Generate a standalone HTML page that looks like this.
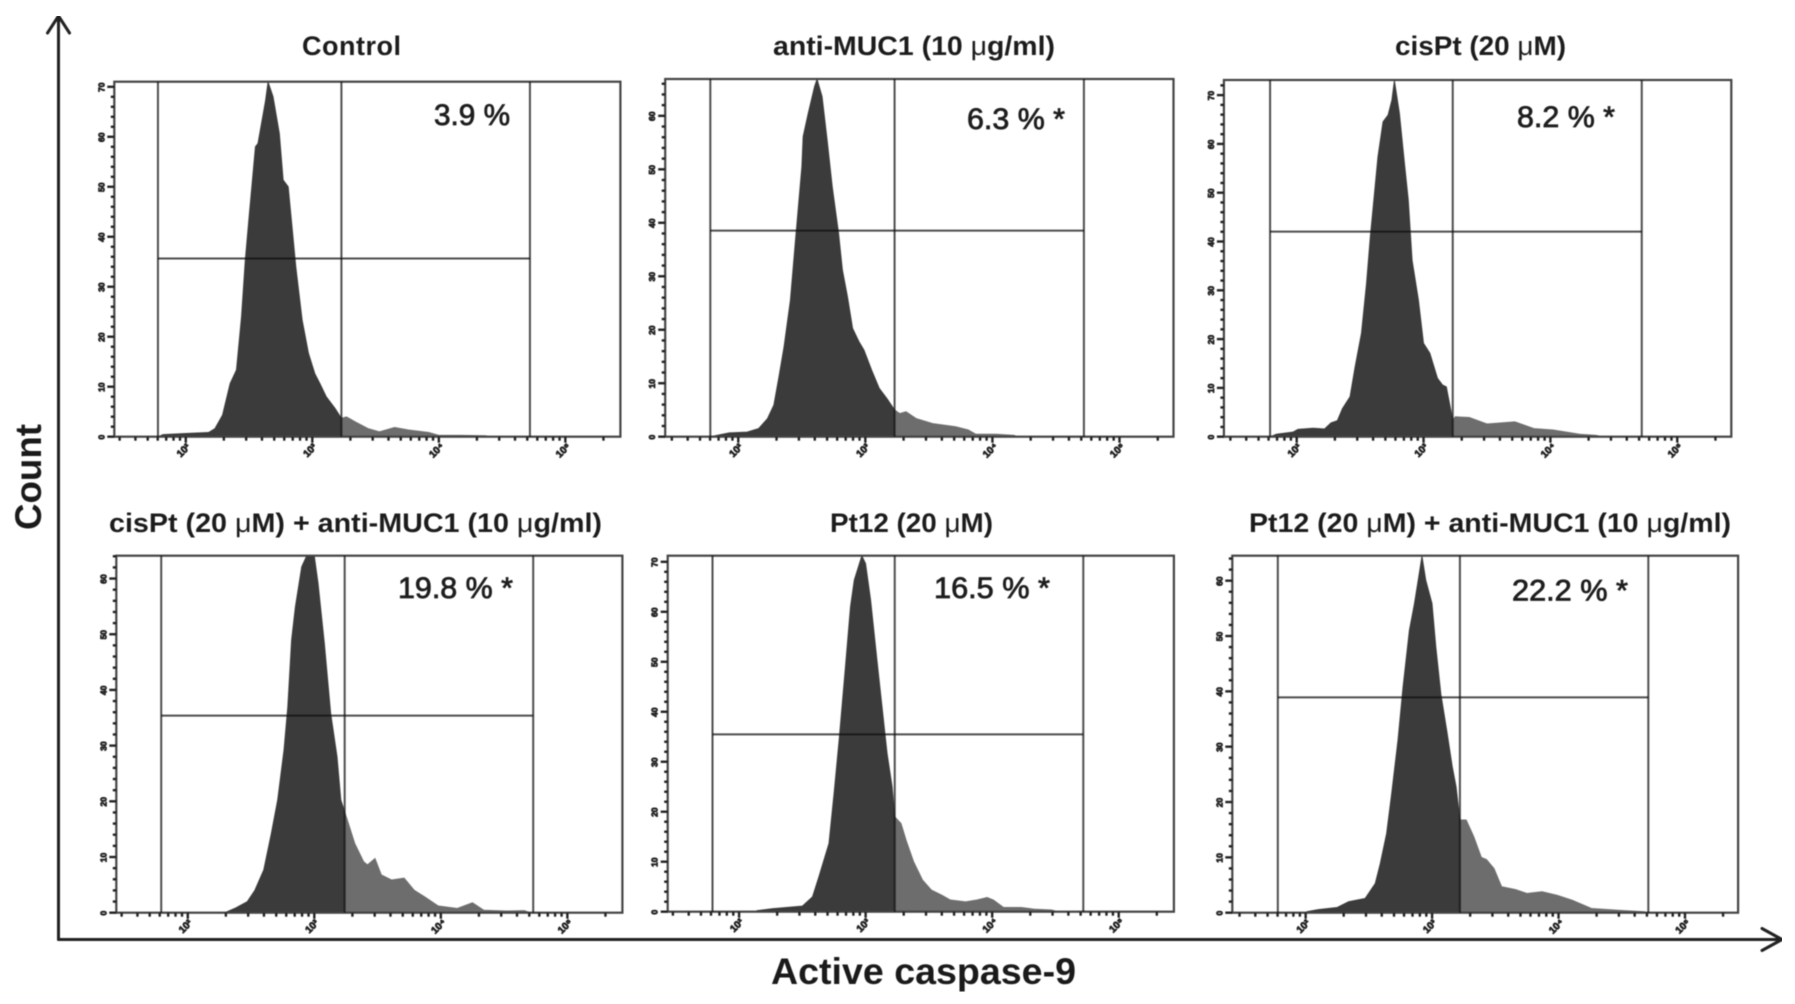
<!DOCTYPE html>
<html lang="en">
<head>
<meta charset="utf-8">
<title>Active caspase-9 flow cytometry histograms</title>
<style>
html,body{margin:0;padding:0;background:#fff;width:1795px;height:1004px;overflow:hidden}
svg{display:block}
text{font-family:"Liberation Sans",sans-serif}
.title{font-size:27px;font-weight:700;fill:#1c1c1c}
.pct{font-size:30px;fill:#1e1e1e;stroke:#1e1e1e;stroke-width:.8px}
.axis-title{font-size:37px;font-weight:700;fill:#1a1a1a}
</style>
</head>
<body>
<svg id="figure" width="1795" height="1004" viewBox="0 0 1795 1004" xmlns="http://www.w3.org/2000/svg">
<defs>
<filter id="soft" x="0" y="0" width="100%" height="100%" color-interpolation-filters="sRGB"><feGaussianBlur stdDeviation="0.6"/></filter>
</defs>
<rect width="1795" height="1004" fill="#fff"/>
<g id="root" filter="url(#soft)">
  <g id="panels"></g>

  <text class="title" x="302" y="55" textLength="99">Control</text>
  <text class="title" x="773" y="55" textLength="282" lengthAdjust="spacingAndGlyphs">anti-MUC1 (10 <tspan font-weight="400">μ</tspan>g/ml)</text>
  <text class="title" x="1395" y="55" textLength="171" lengthAdjust="spacingAndGlyphs">cisPt (20 <tspan font-weight="400">μ</tspan>M)</text>
  <text class="title" x="109" y="532" textLength="493" lengthAdjust="spacingAndGlyphs">cisPt (20 <tspan font-weight="400">μ</tspan>M) + anti-MUC1 (10 <tspan font-weight="400">μ</tspan>g/ml)</text>
  <text class="title" x="830" y="532" textLength="163" lengthAdjust="spacingAndGlyphs">Pt12 (20 <tspan font-weight="400">μ</tspan>M)</text>
  <text class="title" x="1249" y="532" textLength="482" lengthAdjust="spacingAndGlyphs">Pt12 (20 <tspan font-weight="400">μ</tspan>M) + anti-MUC1 (10 <tspan font-weight="400">μ</tspan>g/ml)</text>

  <text class="pct" x="434" y="125" textLength="76" lengthAdjust="spacingAndGlyphs">3.9 %</text>
  <text class="pct" x="967" y="129" textLength="98" lengthAdjust="spacingAndGlyphs">6.3 % *</text>
  <text class="pct" x="1517" y="127" textLength="98" lengthAdjust="spacingAndGlyphs">8.2 % *</text>
  <text class="pct" x="398" y="598" textLength="115" lengthAdjust="spacingAndGlyphs">19.8 % *</text>
  <text class="pct" x="934" y="598" textLength="116" lengthAdjust="spacingAndGlyphs">16.5 % *</text>
  <text class="pct" x="1512" y="600.5" textLength="116" lengthAdjust="spacingAndGlyphs">22.2 % *</text>

  <g fill="none" stroke="#222" stroke-width="3" stroke-linecap="round" stroke-linejoin="round">
    <path d="M58.5 16V939.5"/>
    <path d="M47.5 33L58.5 16L69.5 33"/>
  </g>
  <g fill="none" stroke="#222" stroke-width="3" stroke-linecap="round" stroke-linejoin="round">
    <path d="M58.5 939.5H1781"/>
    <path d="M1762 928.5L1782 939.5L1762 950.5"/>
  </g>
  <text class="axis-title" transform="translate(41 530) rotate(-90)" textLength="106" lengthAdjust="spacingAndGlyphs">Count</text>
  <text class="axis-title" x="771" y="984" textLength="305" lengthAdjust="spacingAndGlyphs">Active caspase-9</text>
</g>
</svg>
<script>
/* Histogram data: log10 intensity and count (% of panel maximum) */
const controlLog = [1.78,1.82,1.98,2.18,2.23,2.29,2.35,2.40,2.44,2.47,2.50,2.55,2.57,2.63,2.65,2.69,2.74,2.77,2.81,2.84,2.87,2.92,2.97,3.02,3.06,3.11,3.18,3.23,3.27,3.34,3.44,3.53,3.65,3.76,3.92,4.00,4.18,4.37,4.40];
const controlCount = [0,0.6,0.9,1.2,2.3,6.1,15,18.8,33.8,49.8,62,81.7,82.6,94.7,100,95.8,85.4,72.3,70.4,59.2,47.9,32.9,23.5,17.8,15,11.3,8,5.2,5.6,4.2,2.3,1.4,2.6,1.9,1.2,0.4,0.4,0.3,0];
const antiMucLog = [1.78,1.93,2.07,2.16,2.23,2.28,2.32,2.36,2.41,2.45,2.50,2.51,2.55,2.60,2.62,2.66,2.70,2.74,2.79,2.82,2.86,2.90,2.95,2.99,3.05,3.11,3.17,3.23,3.27,3.32,3.40,3.53,3.71,3.81,3.87,4.03,4.17,4.20];
const antiMucCount = [0,1.1,1.3,2.3,5.1,8.9,16.8,25.2,38.2,55,75.5,83.9,90.4,97.9,100,95.1,82.9,69.9,56.8,46.6,39.1,30.3,26.6,24.2,18.6,13.5,10.7,7.5,6.5,7,5.1,3.7,2.8,1.9,0.7,0.7,0.4,0];
const cisPtLog = [1.79,1.84,1.97,2.01,2.13,2.22,2.27,2.32,2.36,2.42,2.46,2.51,2.55,2.58,2.61,2.64,2.68,2.72,2.75,2.77,2.81,2.85,2.88,2.91,2.96,3.00,3.05,3.11,3.15,3.18,3.23,3.25,3.36,3.50,3.72,3.87,4.02,4.23,4.36,4.41];
const cisPtCount = [0,0.7,1.3,2.1,2.4,2.2,3.9,4.5,7.9,11.2,19.6,29,43,56.1,67.3,78.5,88.3,90.2,94.4,100,90.7,76.6,66.4,49.5,38.3,26.2,23.4,16.4,14.5,14,4.7,5.6,5.4,3.6,4.2,2.3,1.9,0.7,0.4,0];
const cisPtMucLog = [2.29,2.37,2.47,2.53,2.60,2.66,2.71,2.76,2.79,2.82,2.85,2.90,2.94,3.00,3.03,3.08,3.13,3.18,3.21,3.26,3.32,3.39,3.42,3.48,3.53,3.61,3.71,3.79,3.87,3.98,4.13,4.25,4.34,4.52,4.66,4.71];
const cisPtMucCount = [0,1.2,3.1,6.3,12,22.2,31.6,45.6,57.7,76.4,85.7,96.9,100,100,92.3,75.4,55.8,43.7,31.6,26.1,19.4,14.3,13.4,15.2,10.6,9.2,9.7,6.3,4.5,1.9,1.2,2.8,0.7,0.5,0.6,0];
const pt12Log = [2.14,2.27,2.50,2.58,2.63,2.71,2.75,2.79,2.84,2.88,2.91,2.97,3.00,3.04,3.09,3.13,3.17,3.21,3.23,3.28,3.32,3.38,3.45,3.52,3.60,3.67,3.79,3.88,3.96,4.01,4.09,4.23,4.34,4.47,4.52];
const pt12Count = [0.3,0.9,1.6,4.2,9.8,19.2,33.2,48.2,68.8,85.7,93.2,100,97.8,87.5,70.7,57.6,44.5,35.1,26.7,24.8,20.1,14,8.9,6.1,4.7,3.3,2.8,3.3,4,3.3,1.2,1.2,0.7,0.5,0];
const pt12MucLog = [2.01,2.10,2.25,2.34,2.47,2.55,2.59,2.64,2.68,2.73,2.77,2.82,2.86,2.89,2.92,2.95,3.00,3.03,3.07,3.12,3.16,3.19,3.22,3.27,3.33,3.39,3.43,3.49,3.55,3.66,3.75,3.87,3.99,4.11,4.26,4.47,4.68,4.71];
const pt12MucCount = [0.3,0.9,1.5,3.1,4,8.2,13.8,22.2,33.4,48.4,63.3,79.1,86.6,93.2,100,93.2,86.6,74.5,61.2,50.2,40.9,35.3,26,26,21.3,15.5,14.9,12.4,7.3,6.5,5.4,5.9,4.9,3.5,1.2,0.7,0.3,0];

/* Gates, in data units */
const gateLogLeft = [1.78,1.78,1.79,1.79,1.79,1.78];
const gateLogMid = [3.23,3.23,3.23,3.24,3.23,3.22];
const gateLogRight = [4.72,4.72,4.72,4.73,4.72,4.71];
const gateCount = [50.2,57.6,57.5,55.2,49.8,60.3];

/* Axis ticks */
const xTickDecades = [2,3,4,5];
const xTickLabels = ['10²','10³','10⁴','10⁵'];
const yTickLabels = ['0','10','20','30','40','50','60','70'];
const yTickStep = [14.08,14.95,13.68,15.6,14.04,15.5];

const panelLogs = [controlLog,antiMucLog,cisPtLog,cisPtMucLog,pt12Log,pt12MucLog];
const panelCounts = [controlCount,antiMucCount,cisPtCount,cisPtMucCount,pt12Count,pt12MucCount];

/* Frame geometry for each panel */
const frames = [
  {left:114.3,right:620.4,top:81.7,bottom:436.7,logMin:1.435},
  {left:665.2,right:1173.5,top:79,bottom:436.7,logMin:1.425},
  {left:1223.9,right:1731.3,top:80,bottom:436.7,logMin:1.426},
  {left:116.3,right:622.4,top:555.7,bottom:912.7,logMin:1.435},
  {left:667.7,right:1173.9,top:555.7,bottom:911.7,logMin:1.436},
  {left:1232.3,right:1738.1,top:555.7,bottom:912.7,logMin:1.42}
];
const LOG_SPAN = 4;
const NS = 'http://www.w3.org/2000/svg';
const LINE = 'rgba(15,15,15,0.74)';

function mk(parent, tag, attrs, text) {
  const el = document.createElementNS(NS, tag);
  for (const k in attrs) el.setAttribute(k, attrs[k]);
  if (text !== undefined) el.textContent = text;
  parent.appendChild(el);
  return el;
}

const svgRoot = document.getElementById('figure');
const defs = svgRoot.querySelector('defs');
const host = document.getElementById('panels');

frames.forEach(function (f, p) {
  const xScale = function (v) { return f.left + (v - f.logMin) / LOG_SPAN * (f.right - f.left); };
  const yScale = function (c) { return f.bottom - c / 100 * (f.bottom - f.top); };

  const g = mk(host, 'g', {});
  
  

  const logs = panelLogs[p];
  const counts = panelCounts[p];
  let d = 'M' + xScale(logs[0]).toFixed(2) + ' ' + f.bottom;
  logs.forEach(function (v, i) {
    d += 'L' + xScale(v).toFixed(2) + ' ' + yScale(counts[i]).toFixed(2);
  });
  d += 'L' + xScale(logs[logs.length - 1]).toFixed(2) + ' ' + f.bottom + 'Z';

  const mid = xScale(gateLogMid[p]);
  const clipA = mk(defs, 'clipPath', {id: 'neg' + p});
  mk(clipA, 'rect', {x: f.left, y: f.top - 2, width: mid - f.left, height: f.bottom - f.top + 4});
  const clipB = mk(defs, 'clipPath', {id: 'pos' + p});
  mk(clipB, 'rect', {x: mid, y: f.top - 2, width: f.right - mid, height: f.bottom - f.top + 4});

  const dark = mk(g, 'path', {d: d, fill: '#3b3b3b', stroke: '#3b3b3b', 'stroke-width': 0.8, 'clip-path': 'url(#neg' + p + ')'});
  
  
  const light = mk(g, 'path', {d: d, fill: '#6d6d6d', stroke: '#6d6d6d', 'stroke-width': 0.8, 'clip-path': 'url(#pos' + p + ')'});
  
  

  const frame = mk(g, 'rect', {x: f.left, y: f.top, width: f.right - f.left, height: f.bottom - f.top, fill: 'none', stroke: '#444', 'stroke-width': 2.2});
  
  

  [gateLogLeft[p], gateLogMid[p], gateLogRight[p]].forEach(function (v) {
    const gx = xScale(v);
    const gl = mk(g, 'line', {x1: gx, x2: gx, y1: f.top, y2: f.bottom, stroke: LINE, 'stroke-width': 2});
    
    
  });
  const gy = yScale(gateCount[p]);
  const hl = mk(g, 'line', {x1: xScale(gateLogLeft[p]), x2: xScale(gateLogRight[p]), y1: gy, y2: gy, stroke: LINE, 'stroke-width': 2});
  
  

  /* x ticks: logarithmic minor ticks and labelled decades */
  const xt = mk(g, 'g', {stroke: '#222', 'stroke-width': 2.4});
  
  
  for (let dec = 1; dec <= 5; dec++) {
    for (let m = 1; m <= 9; m++) {
      const v = dec + Math.log10(m);
      if (v < f.logMin || v > f.logMin + LOG_SPAN) continue;
      const tx = xScale(v);
      mk(xt, 'line', {x1: tx, x2: tx, y1: f.bottom, y2: f.bottom + (m === 1 ? 6 : 4)});
    }
  }
  xTickDecades.forEach(function (v, i) {
    const tx = xScale(v);
    const tl = mk(g, 'text', {
      transform: 'translate(' + tx.toFixed(1) + ' ' + (f.bottom + 16) + ') rotate(-45)',
      'text-anchor': 'middle', 'font-size': 10, 'font-weight': 700, fill: '#222', stroke: '#222', 'stroke-width': 0.8
    }, xTickLabels[i]);
    
    
  });

  /* y ticks: minor dots and labelled majors */
  const step = yTickStep[p];
  const yt = mk(g, 'g', {stroke: '#222', 'stroke-width': 2.4});
  
  
  for (let i = 0; i * step / 5 <= 100; i++) {
    const ty = yScale(i * step / 5);
    mk(yt, 'line', {x1: f.left - (i % 5 === 0 ? 7 : 3.5), x2: f.left, y1: ty, y2: ty});
  }
  yTickLabels.forEach(function (lab, i) {
    const c = i * step;
    if (c > 100) return;
    const ty = yScale(c);
    const yl = mk(g, 'text', {
      transform: 'translate(' + (f.left - 10) + ' ' + (ty + 0.5).toFixed(1) + ') rotate(-90)',
      'text-anchor': 'middle', 'font-size': 8.5, 'font-weight': 700, fill: '#222', stroke: '#222', 'stroke-width': 0.8
    }, lab);
    
    
  });
});
</script>
</body>
</html>
